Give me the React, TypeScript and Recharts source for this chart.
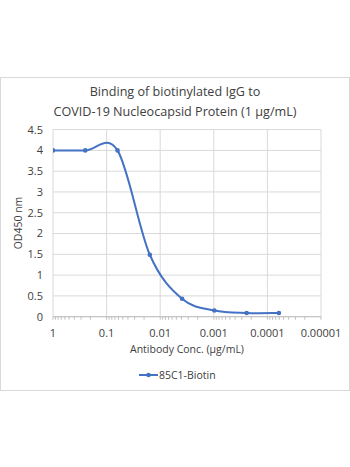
import React from "react";
import { LineChart, Line, XAxis, YAxis, CartesianGrid, ReferenceLine } from "recharts";

const concentrations = [1, 0.25, 0.0625, 0.015625, 0.00390625, 0.0009765625, 0.000244140625, 0.00006103515625];
const od450 = [4.0, 4.0, 4.0, 1.49, 0.43, 0.15, 0.09, 0.09];
const decadeTicks = [1, 0.1, 0.01, 0.001, 0.0001, 0.00001];
const decadeLabels = ["1", "0.1", "0.01", "0.001", "0.0001", "0.00001"];
const minorMultipliers = [2, 3, 4, 5, 6, 7, 8, 9];
const yTicks = [0, 0.5, 1, 1.5, 2, 2.5, 3, 3.5, 4, 4.5];
const seriesName = "85C1-Biotin";
const titleLines = ["Binding of biotinylated IgG to", "COVID-19 Nucleocapsid Protein (1 µg/mL)"];
const xTitle = "Antibody Conc. (µg/mL)";
const yTitle = "OD450 nm";

const data = concentrations.map((c, i) => ({ conc: c, od: od450[i] }));

const minorTicks: number[] = [];
decadeTicks.slice(1).forEach((d) => {
  minorMultipliers.forEach((m) => minorTicks.push(d * m));
});
const allTicks = [...decadeTicks, ...minorTicks];

const BLUE = "#4472C4";
const TEXT = "#404040";
const GRID = "#d9d9d9";
const FONT = "'Open Sans', sans-serif";

// Excel-like smoothing (Catmull-Rom via cubic Bezier, 1/6 tangents)
function excelCurve(context: any) {
  let pts: [number, number][] = [];
  return {
    areaStart() {},
    areaEnd() {},
    lineStart() {
      pts = [];
    },
    point(x: number, y: number) {
      pts.push([+x, +y]);
    },
    lineEnd() {
      const n = pts.length;
      if (n === 0) return;
      context.moveTo(pts[0][0], pts[0][1]);
      if (n === 1) return;
      for (let i = 0; i < n - 1; i++) {
        const p0 = pts[i - 1] || pts[i];
        const p1 = pts[i];
        const p2 = pts[i + 1];
        const p3 = pts[i + 2] || pts[i + 1];
        const c1x = p1[0] + (p2[0] - p0[0]) / 6;
        const c1y = p1[1] + (p2[1] - p0[1]) / 6;
        const c2x = p2[0] - (p3[0] - p1[0]) / 6;
        const c2y = p2[1] - (p3[1] - p1[1]) / 6;
        context.bezierCurveTo(c1x, c1y, c2x, c2y, p2[0], p2[1]);
      }
    },
  };
}

const XTick = (props: any) => {
  const { x, y, payload } = props;
  const idx = decadeTicks.findIndex((d) => Math.abs(d - payload.value) / d < 1e-6);
  if (idx < 0) return null;
  return (
    <text x={x} y={y} dy="0.71em" textAnchor="middle" fill={TEXT} fontSize={11} fontFamily={FONT}>
      {decadeLabels[idx]}
    </text>
  );
};

export default function App() {
  return (
    <div style={{ position: "absolute", left: 0, top: 0, width: 350, height: 467, background: "#fff" }}>
      <div
        style={{
          position: "absolute",
          left: 0,
          top: 77,
          width: 348,
          height: 312,
          border: `1px solid ${GRID}`,
        }}
      />
      {titleLines.map((t, i) => (
        <div
          key={i}
          style={{
            position: "absolute",
            left: 0,
            width: 350,
            top: 83 + i * 20,
            textAlign: "center",
            fontFamily: FONT,
            fontSize: 12.6,
            color: TEXT,
            lineHeight: "18px",
            whiteSpace: "nowrap",
          }}
        >
          {t}
        </div>
      ))}
      <div
        style={{
          position: "absolute",
          left: 18 - 40,
          top: 223 - 8,
          width: 80,
          height: 16,
          lineHeight: "16px",
          textAlign: "center",
          transform: "rotate(-90deg)",
          fontFamily: FONT,
          fontSize: 10.5,
          color: TEXT,
        }}
      >
        {yTitle}
      </div>
      <div
        style={{
          position: "absolute",
          left: 87,
          width: 200,
          top: 341,
          lineHeight: "16px",
          textAlign: "center",
          fontFamily: FONT,
          fontSize: 10.5,
          color: TEXT,
        }}
      >
        {xTitle}
      </div>
      <div style={{ position: "absolute", left: 139, top: 367, height: 16, display: "flex", alignItems: "center" }}>
        <svg width={19} height={16}>
          <line x1={0} y1={8} x2={19} y2={8} stroke={BLUE} strokeWidth={2} />
          <circle cx={9.5} cy={8} r={2.3} fill={BLUE} />
        </svg>
        <span style={{ fontFamily: FONT, fontSize: 10.5, color: TEXT, marginLeft: 1, lineHeight: "16px" }}>
          {seriesName}
        </span>
      </div>
      <div style={{ position: "absolute", left: 0, top: 0 }}>
        <LineChart width={350} height={467} data={data} margin={{ top: 129.6, right: 29, bottom: 120.3, left: 0 }}>
          <CartesianGrid vertical={false} stroke={GRID} strokeWidth={1} />
          {decadeTicks.map((d) => (
            <ReferenceLine key={d} x={d} stroke={GRID} strokeWidth={1} ifOverflow="visible" />
          ))}
          <XAxis
            dataKey="conc"
            type="number"
            scale="log"
            domain={[0.00001, 1]}
            reversed
            ticks={allTicks}
            interval={0}
            allowDataOverflow
            height={30}
            tickSize={3}
            tickMargin={9}
            tickLine={{ stroke: "#bfbfbf" }}
            axisLine={{ stroke: "#bfbfbf" }}
            tick={<XTick />}
          />
          <YAxis
            type="number"
            domain={[0, 4.5]}
            ticks={yTicks}
            interval={0}
            width={53}
            tickSize={0}
            tickMargin={10}
            axisLine={false}
            tickLine={false}
            tick={{ fill: TEXT, fontSize: 11, fontFamily: FONT }}
          />
          <Line
            dataKey="od"
            type={excelCurve as any}
            stroke={BLUE}
            strokeWidth={2}
            dot={{ r: 2.3, fill: BLUE, stroke: BLUE, strokeWidth: 0 }}
            activeDot={false}
            isAnimationActive={false}
          />
        </LineChart>
      </div>
    </div>
  );
}
